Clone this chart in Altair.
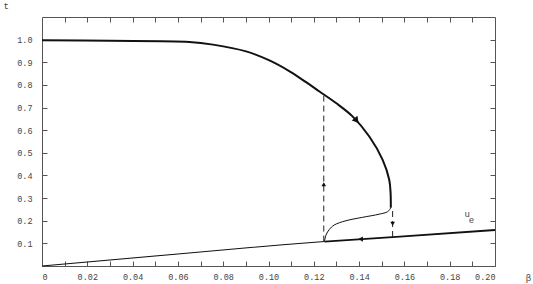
import altair as alt
import pandas as pd

# ---- data ----
# bold upper branch (t vs beta)
upper_beta = [0.0, 0.03, 0.065, 0.0755, 0.0901, 0.1004, 0.1093, 0.1166, 0.1225,
              0.1298, 0.1371, 0.1445, 0.1504, 0.1533, 0.1539, 0.1540]
upper_t = [0.997, 0.995, 0.99, 0.978, 0.948, 0.908, 0.860, 0.812, 0.771,
           0.720, 0.661, 0.572, 0.469, 0.381, 0.323, 0.257]

# thin connecting branch
branch_beta = [0.1540, 0.1526, 0.1489, 0.1415, 0.1342, 0.1290, 0.1269, 0.1254, 0.1247]
branch_t = [0.257, 0.240, 0.229, 0.215, 0.200, 0.181, 0.162, 0.137, 0.108]

# u_e line: thin part and bold part
ue_thin_beta = [0.0, 0.06, 0.105, 0.1247]
ue_thin_t = [0.0, 0.053, 0.093, 0.108]
ue_bold_beta = [0.1247, 0.158, 0.20]
ue_bold_t = [0.108, 0.130, 0.159]

# dashed jumps
jump_beta = [0.1244, 0.1548]
jump_t_low = [0.108, 0.128]
jump_t_high = [0.76, 0.255]

# arrows
arrow_beta = [0.1386, 0.1244, 0.1548, 0.141]
arrow_t = [0.646, 0.358, 0.19, 0.119]
arrow_dir = ["along", "up", "down", "left"]

# label u_e
lab_text = ["u", "e"]
lab_beta = [0.1877, 0.1896]
lab_t = [0.228, 0.205]

x_ticks = [round(i * 0.01, 2) for i in range(0, 21)]
x_top_ticks = [round(i * 0.01, 2) for i in range(1, 20)]
y_ticks = [round(i * 0.1, 1) for i in range(1, 11)]

# ---- styling ----
FONT = "Liberation Mono"
AX = "#555555"
TXT = "#444444"
W, H = 453, 249

xs = alt.Scale(domain=[0, 0.2], nice=False, zero=False)
ys = alt.Scale(domain=[0, 1.1], nice=False, zero=False)

upper = pd.DataFrame({"b": upper_beta, "t": upper_t, "o": range(len(upper_beta))})
branch = pd.DataFrame({"b": branch_beta, "t": branch_t, "o": range(len(branch_beta))})
ue_thin = pd.DataFrame({"b": ue_thin_beta, "t": ue_thin_t})
ue_bold = pd.DataFrame({"b": ue_bold_beta, "t": ue_bold_t})
jumps = pd.DataFrame({"b": jump_beta, "t": jump_t_low, "t2": jump_t_high})
ang = {"along": 140, "up": 0, "down": 180, "left": 270}
sz = {"along": 55, "up": 22, "down": 22, "left": 28}
arrows = pd.DataFrame({"b": arrow_beta, "t": arrow_t,
                       "a": [ang[d] for d in arrow_dir],
                       "s": [sz[d] for d in arrow_dir]})
labels = pd.DataFrame({"b": lab_beta, "t": lab_t, "txt": lab_text})

main = alt.Chart(upper).mark_line(color="#111", strokeWidth=2, interpolate="catmull-rom").encode(
    x=alt.X("b:Q", scale=xs, axis=alt.Axis(
        orient="bottom", values=x_ticks, offset=-5, tickSize=5, domain=False,
        grid=False, tickColor=AX, labelColor=TXT, labelFont=FONT, labelFontSize=8.5,
        labelPadding=6,
        labelExpr="datum.value == 0 ? '0' : (round(datum.value*100) % 2 == 0 ? format(datum.value, '.2f') : '')",
        title="β", titleFont=FONT, titleFontSize=9, titleFontWeight="normal",
        titleColor=TXT, titleX=486, titleY=16, titleAlign="center",
        titleBaseline="middle")),
    y=alt.Y("t:Q", scale=ys, axis=alt.Axis(
        orient="left", values=y_ticks, offset=-5, tickSize=5, domain=False,
        grid=False, tickColor=AX, labelColor=TXT, labelFont=FONT, labelFontSize=8.5,
        labelPadding=10, format=".1f",
        title="t", titleFont=FONT, titleFontSize=9, titleFontWeight="normal",
        titleColor=TXT, titleAngle=0, titleX=-44, titleY=-12, titleAlign="left",
        titleBaseline="middle")),
    order="o:Q",
)

frame = alt.Chart(branch).mark_line(color="#111", strokeWidth=1, interpolate="catmull-rom").encode(
    x=alt.X("b:Q", scale=xs, axis=alt.Axis(
        orient="top", values=x_top_ticks, offset=-5, tickSize=5, domain=False,
        grid=False, labels=False, tickColor=AX, title=None)),
    y=alt.Y("t:Q", scale=ys, axis=alt.Axis(
        orient="right", values=y_ticks, offset=-5, tickSize=5, domain=False,
        grid=False, labels=False, tickColor=AX, title=None)),
    order="o:Q",
)

ue1 = alt.Chart(ue_thin).mark_line(color="#111", strokeWidth=1.1).encode(
    x=alt.X("b:Q", scale=xs, axis=None), y=alt.Y("t:Q", scale=ys, axis=None))
ue2 = alt.Chart(ue_bold).mark_line(color="#111", strokeWidth=1.8).encode(
    x=alt.X("b:Q", scale=xs, axis=None), y=alt.Y("t:Q", scale=ys, axis=None))

dash = alt.Chart(jumps).mark_rule(color="#222", strokeWidth=1, strokeDash=[6, 4]).encode(
    x=alt.X("b:Q", scale=xs, axis=None), y=alt.Y("t:Q", scale=ys, axis=None), y2="t2:Q")

arr = alt.Chart(arrows).mark_point(shape="triangle", filled=True, color="#111", opacity=1).encode(
    x=alt.X("b:Q", scale=xs, axis=None), y=alt.Y("t:Q", scale=ys, axis=None),
    angle=alt.Angle("a:Q", scale=None), size=alt.Size("s:Q", scale=None))

lab = alt.Chart(labels).mark_text(font=FONT, fontSize=9, color=TXT).encode(
    x=alt.X("b:Q", scale=xs, axis=None), y=alt.Y("t:Q", scale=ys, axis=None), text="txt:N")

chart = alt.layer(main, frame, ue1, ue2, dash, arr, lab).resolve_axis(
    x="independent", y="independent"
).properties(
    width=W, height=H, autosize="none",
    padding={"left": 42, "top": 17, "right": 38, "bottom": 18},
    background="white",
).configure_view(stroke=AX, strokeWidth=1)

chart.save("out.html", embed_options={"renderer": "svg", "actions": False})
